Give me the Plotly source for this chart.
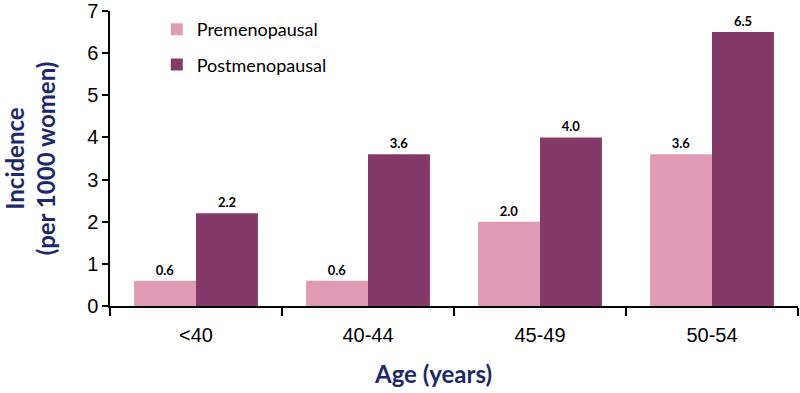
import plotly.graph_objects as go

categories = ["<40", "40-44", "45-49", "50-54"]
premenopausal = [0.6, 0.6, 2.0, 3.6]
postmenopausal = [2.2, 3.6, 4.0, 6.5]
y_ticks = [0, 1, 2, 3, 4, 5, 6, 7]

navy = "#1B2A6B"
lab_font = dict(family="Lato", size=13, color="black", weight="bold")
fig = go.Figure()
fig.add_trace(go.Bar(
    x=categories, y=premenopausal, name="Premenopausal",
    marker=dict(color="#E09BB4", line=dict(width=0)),
    text=[f"{v:.1f}" for v in premenopausal], textposition="outside",
    textfont=lab_font, cliponaxis=False, legendgroup="a",
))
fig.add_trace(go.Bar(
    x=categories, y=postmenopausal, name="Postmenopausal",
    marker=dict(color="#843A68", line=dict(width=0)),
    text=[f"{v:.1f}" for v in postmenopausal], textposition="outside",
    textfont=lab_font, cliponaxis=False, legendgroup="b",
))
fig.update_layout(
    width=800, height=393,
    margin=dict(l=110, r=2, t=11, b=87, autoexpand=False),
    plot_bgcolor="white", paper_bgcolor="white",
    barmode="group", bargap=0.28, bargroupgap=0,
    showlegend=True,
    legend=dict(x=0.068, y=1.0, xanchor="left", yanchor="top",
                font=dict(family="Lato", size=18, color="black"),
                bgcolor="rgba(0,0,0,0)", tracegroupgap=9,
                traceorder="grouped", itemwidth=30),
    xaxis=dict(
        showline=True, linecolor="black", linewidth=1.5,
        ticks="outside", ticklen=8, tickcolor="black", tickwidth=1.5,
        tickson="boundaries", automargin=False, ticklabelstandoff=10,
        tickfont=dict(family="Arial", size=20, color="black"),
    ),
    yaxis=dict(
        range=[0, 7.0], tickvals=y_ticks, automargin=False,
        ticklabeloverflow="allow",
        showline=True, linecolor="black", linewidth=1.5,
        ticks="outside", ticklen=6, tickcolor="black", tickwidth=1.5,
        showgrid=False, zeroline=False,
        tickfont=dict(family="Arial", size=20, color="black"),
        title=dict(text="Incidence<br>(per 1000 women)", standoff=35,
                   font=dict(family="Lato", size=24, color=navy, weight="bold")),
    ),
    annotations=[dict(
        text="Age (years)", xref="paper", yref="paper", x=0.47, y=-0.285,
        xanchor="center", yanchor="bottom", showarrow=False,
        font=dict(family="Lato", size=24, color=navy, weight="bold"),
    )],
)
fig.write_html("out.html", post_script="document.body.style.margin='0px';",
               config={"displayModeBar": False})
